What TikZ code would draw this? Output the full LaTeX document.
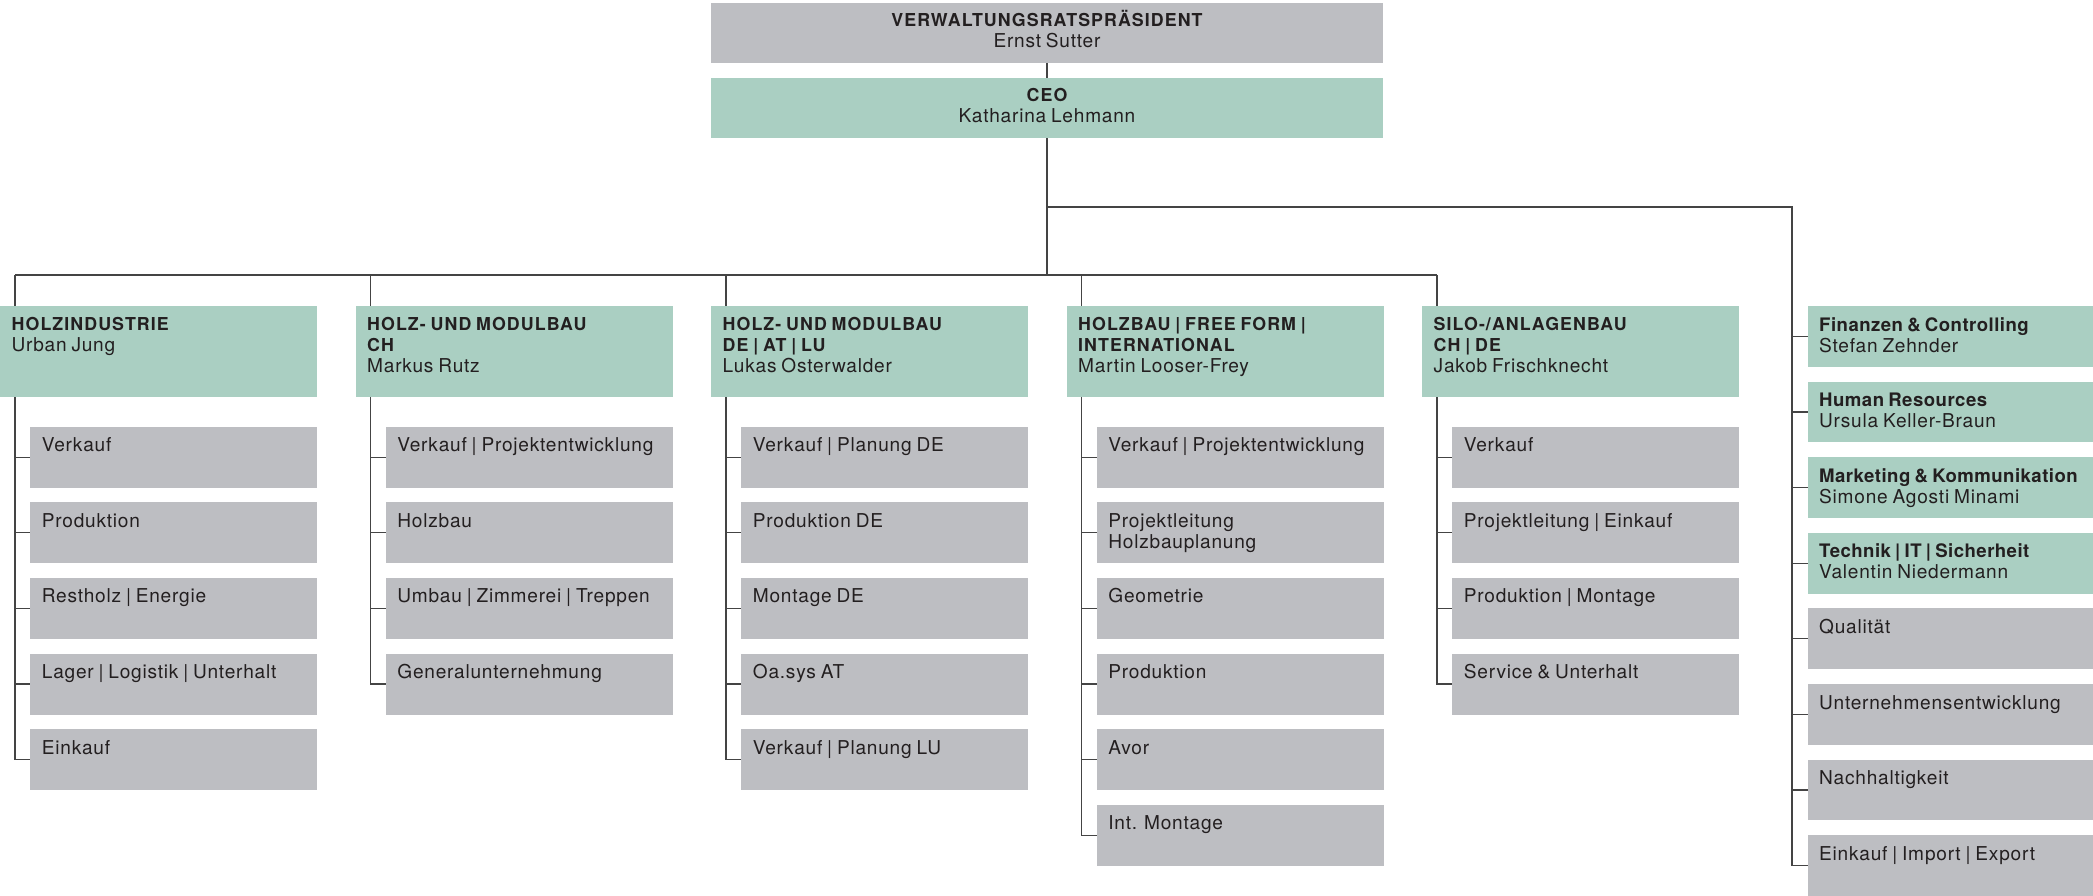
\documentclass[tikz,border=0pt]{standalone}
\usepackage{fontspec}
\setmainfont{TeX Gyre Heros}[LetterSpace=4.0, WordSpace=0.8]
\newfontfamily\capsfont{TeX Gyre Heros}[LetterSpace=6.0, WordSpace=0.8]
\newfontfamily\headfont{TeX Gyre Heros}[LetterSpace=2.5, WordSpace=0.75]
\usetikzlibrary{backgrounds}
\definecolor{grn}{HTML}{AACFC2}
\definecolor{gry}{HTML}{BDBEC2}
\definecolor{ink}{HTML}{231F20}
\definecolor{ln}{HTML}{444444}
\newcommand\Lines[1]{\vtop{\halign{##\hfil\cr#1\crcr}}}
\newcommand\CLines[1]{\vtop{\halign{\hfil##\hfil\cr#1\crcr}}}
\newcommand\Cap[1]{{\capsfont\bfseries\fontsize{17.8}{21}\selectfont #1}}
\newcommand\Hd[1]{{\headfont\bfseries\fontsize{18.6}{21}\selectfont #1}}
\newcommand\Sub[4]{%
  \node[gbox] (#1) at (#2,#3) {};
  \node[txt] (#1t) at ([shift={(11.7pt,-25pt)}]#1.north west) {\Lines{#4}};}
\newcommand\Div[3]{%
  \node[divbox] (#1) at (#2,306) {};
  \node[txt] (#1t) at ([shift={(11.5pt,-24pt)}]#1.north west) {\Lines{#3}};}
\newcommand\Staff[4]{%
  \node[#2] (#1) at (1808,#3) {};
  \node[txt] (#1t) at ([shift={(11pt,-25pt)}]#1.north west) {\Lines{#4}};}
\begin{document}
\begin{tikzpicture}[x=1pt,y=-1pt,
  box/.style={anchor=north west, inner sep=0pt, outer sep=0pt, draw=none},
  gbox/.style={box, fill=gry, minimum width=287pt, minimum height=61pt},
  divbox/.style={box, fill=grn, minimum width=317pt, minimum height=90.7pt},
  sgreen/.style={box, fill=grn, minimum width=285pt, minimum height=60.7pt},
  sgray/.style={box, fill=gry, minimum width=285pt, minimum height=60.7pt},
  topbox/.style={box, minimum width=672pt, minimum height=60.6pt},
  txt/.style={anchor=base west, inner sep=0pt, text=ink, font=\fontsize{19.1}{21}\selectfont},
  ctxt/.style={txt, anchor=base},
  conn/.style={draw=ln, line width=1.1pt}]
\useasboundingbox (0,0) rectangle (2093,896);
% top
\node[topbox, fill=gry] (vr) at (711,2.7) {};
\node[ctxt] (vrt) at ([yshift=-24pt]vr.north) {\CLines{\Cap{VERWALTUNGSRATSPRÄSIDENT}\cr Ernst Sutter}};
\node[topbox, fill=grn] (ceo) at (711,77.7) {};
\node[ctxt] (ceot) at ([yshift=-24pt]ceo.north) {\CLines{\Cap{CEO}\cr Katharina Lehmann}};
% divisions
\Div{d0}{0}{\Cap{HOLZINDUSTRIE}\cr Urban Jung}
\Div{d1}{355.5}{\Cap{HOLZ- UND MODULBAU}\cr \Cap{CH}\cr Markus Rutz}
\Div{d2}{711}{\Cap{HOLZ- UND MODULBAU}\cr \Cap{DE | AT | LU}\cr Lukas Osterwalder}
\Div{d3}{1066.5}{\Cap{HOLZBAU | FREE FORM |}\cr \Cap{INTERNATIONAL}\cr Martin Looser-Frey}
\Div{d4}{1422}{\Cap{SILO-/ANLAGENBAU}\cr \Cap{CH | DE}\cr Jakob Frischknecht}
% column 0
\Sub{a0}{30}{426.7}{Verkauf}
\Sub{a1}{30}{502.3}{Produktion}
\Sub{a2}{30}{577.9}{Restholz | Energie}
\Sub{a3}{30}{653.5}{Lager | Logistik | Unterhalt}
\Sub{a4}{30}{729.1}{Einkauf}
% column 1
\Sub{b0}{385.5}{426.7}{Verkauf | Projektentwicklung}
\Sub{b1}{385.5}{502.3}{Holzbau}
\Sub{b2}{385.5}{577.9}{Umbau | Zimmerei | Treppen}
\Sub{b3}{385.5}{653.5}{Generalunternehmung}
% column 2
\Sub{c0}{741}{426.7}{Verkauf | Planung DE}
\Sub{c1}{741}{502.3}{Produktion DE}
\Sub{c2}{741}{577.9}{Montage DE}
\Sub{c3}{741}{653.5}{Oa.sys AT}
\Sub{c4}{741}{729.1}{Verkauf | Planung LU}
% column 3
\Sub{e0}{1096.5}{426.7}{Verkauf | Projektentwicklung}
\Sub{e1}{1096.5}{502.3}{Projektleitung\cr Holzbauplanung}
\Sub{e2}{1096.5}{577.9}{Geometrie}
\Sub{e3}{1096.5}{653.5}{Produktion}
\Sub{e4}{1096.5}{729.1}{Avor}
\Sub{e5}{1096.5}{804.7}{Int. Montage}
% column 4
\Sub{f0}{1452}{426.7}{Verkauf}
\Sub{f1}{1452}{502.3}{Projektleitung | Einkauf}
\Sub{f2}{1452}{577.9}{Produktion | Montage}
\Sub{f3}{1452}{653.5}{Service \& Unterhalt}
% staff
\Staff{s0}{sgreen}{306}{\Hd{Finanzen \& Controlling}\cr Stefan Zehnder}
\Staff{s1}{sgreen}{381.6}{\Hd{Human Resources}\cr Ursula Keller-Braun}
\Staff{s2}{sgreen}{457.2}{\Hd{Marketing \& Kommunikation}\cr Simone Agosti Minami}
\Staff{s3}{sgreen}{532.8}{\Hd{Technik | IT | Sicherheit}\cr Valentin Niedermann}
\Staff{s4}{sgray}{608.4}{Qualität}
\Staff{s5}{sgray}{684}{Unternehmensentwicklung}
\Staff{s6}{sgray}{759.6}{Nachhaltigkeit}
\Staff{s7}{sgray}{835.2}{Einkauf | Import | Export}
% connectors
\coordinate (ja) at (1047,207);
\coordinate (jb) at (1047,275);
\coordinate (sx) at (1792,207);
\coordinate (t0) at (15,275);
\coordinate (t1) at (370.5,275);
\coordinate (t2) at (726,275);
\coordinate (t3) at (1081.5,275);
\coordinate (t4) at (1437,275);
\begin{pgfonlayer}{background}
\draw[conn] (vr.south) -- (ceo.north);
\draw[conn] (ceo.south) -- (jb);
\draw[conn] (ja) -- (sx) |- (s7.west);
\foreach \i in {0,...,6} \draw[conn] (s\i.west -| sx) -- (s\i.west);
\draw[conn] (t0) -- (t4);
\draw[conn] (t0) |- (a4.west);
\foreach \i in {0,...,3} \draw[conn] (a\i.west -| t0) -- (a\i.west);
\draw[conn] (t1) |- (b3.west);
\foreach \i in {0,...,2} \draw[conn] (b\i.west -| t1) -- (b\i.west);
\draw[conn] (t2) |- (c4.west);
\foreach \i in {0,...,3} \draw[conn] (c\i.west -| t2) -- (c\i.west);
\draw[conn] (t3) |- (e5.west);
\foreach \i in {0,...,4} \draw[conn] (e\i.west -| t3) -- (e\i.west);
\draw[conn] (t4) |- (f3.west);
\foreach \i in {0,...,2} \draw[conn] (f\i.west -| t4) -- (f\i.west);
\end{pgfonlayer}
\end{tikzpicture}
\end{document}
